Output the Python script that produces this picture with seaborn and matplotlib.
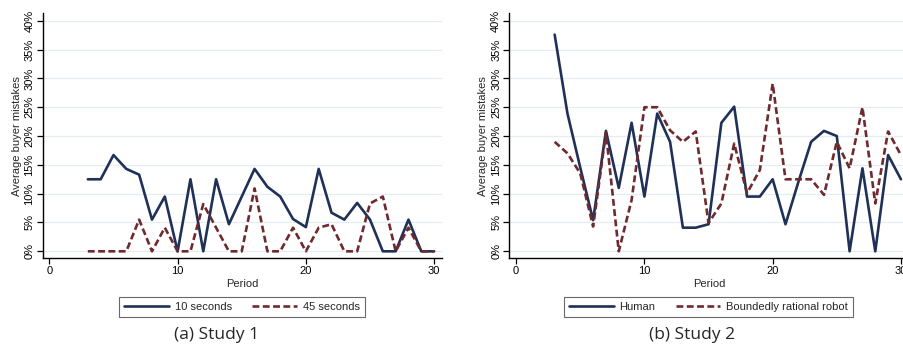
import numpy as np
import pandas as pd
import matplotlib
matplotlib.use("Agg")
import matplotlib.pyplot as plt
import seaborn as sns

# ---- data ----
periods = list(range(3, 31))

study1_10s = [12.5, 12.5, 16.7, 14.3, 13.3, 5.5, 9.5, 0.0, 12.5, 0.0, 12.5, 4.7, 9.5,
              14.3, 11.2, 9.5, 5.6, 4.2, 14.3, 6.7, 5.5, 8.4, 5.5, 0.0, 0.0, 5.5, 0.0, 0.0]
study1_45s = [0.0, 0.0, 0.0, 0.0, 5.5, 0.0, 4.1, 0.0, 0.0, 8.2, 4.1, 0.0, 0.0,
              10.9, 0.0, 0.0, 4.1, 0.0, 4.1, 4.7, 0.0, 0.0, 8.3, 9.5, 0.0, 4.1, 0.0, 0.0]

study2_human = [37.6, 23.9, 14.5, 5.4, 20.9, 11.0, 22.3, 9.5, 23.9, 19.0, 4.1, 4.1, 4.7,
                22.3, 25.1, 9.5, 9.5, 12.5, 4.7, 12.0, 19.0, 20.9, 20.0, 0.0, 14.4, 0.0, 16.7, 12.5]
study2_robot = [19.0, 17.0, 13.5, 4.3, 20.6, 0.0, 8.9, 25.0, 25.0, 21.0, 19.0, 20.8, 4.9,
                8.3, 18.7, 10.1, 14.1, 29.1, 12.5, 12.5, 12.5, 9.8, 19.0, 14.4, 25.0, 8.3, 20.8, 16.7]

labels1 = ["10 seconds", "45 seconds"]
labels2 = ["Human", "Boundedly rational robot"]
captions = ["(a) Study 1", "(b) Study 2"]
xticks = [0, 10, 20, 30]
yticks = [0, 5, 10, 15, 20, 25, 30, 35, 40]

NAVY = "#1f3157"
MAROON = "#6e2a2e"
GRID = "#e6edf1"

sns.set_theme(style="white")
plt.rcParams["font.family"] = ["Liberation Sans", "DejaVu Sans"]

fig = plt.figure(figsize=(9.04, 3.48), dpi=100)
W, H = 904.0, 348.0

def make_ax(left_px):
    return fig.add_axes([left_px / W, (H - 258) / H, 399.5 / W, (258 - 13.3) / H])

panels = [
    (make_ax(42.7), study1_10s, study1_45s, labels1, 242.0, 217.0, captions[0]),
    (make_ax(509.5), study2_human, study2_robot, labels2, 708.5, 692.0, captions[1]),
]

for ax, s_solid, s_dash, labs, leg_cx, cap_cx, cap in panels:
    df = pd.DataFrame({
        "Period": periods * 2,
        "value": s_solid + s_dash,
        "series": [labs[0]] * len(periods) + [labs[1]] * len(periods),
    })
    sns.lineplot(data=df, x="Period", y="value", hue="series", style="series",
                 palette={labs[0]: NAVY, labs[1]: MAROON},
                 dashes={labs[0]: "", labs[1]: (2.6, 1.3)},
                 linewidth=1.9, ax=ax, legend=False)
    ax.set_xlim(-0.52, 30.63)
    ax.set_ylim(-1.16, 41.3)
    ax.set_xticks(xticks)
    ax.set_xticklabels([str(t) for t in xticks], fontsize=8)
    ax.set_yticks(yticks)
    ax.set_yticklabels([f"{t}%" for t in yticks], fontsize=8, rotation=90, va="center")
    ax.yaxis.grid(True, color=GRID, linewidth=0.9)
    ax.xaxis.grid(False)
    ax.set_axisbelow(True)
    for side in ["top", "right"]:
        ax.spines[side].set_visible(False)
    for side in ["left", "bottom"]:
        ax.spines[side].set_color("black")
        ax.spines[side].set_linewidth(1.0)
    ax.tick_params(axis="both", which="major", direction="out", length=4, width=0.9,
                   color="black", labelcolor="black", bottom=True, left=True, pad=2)
    ax.set_xlabel("Period", fontsize=8, labelpad=2)
    ax.set_ylabel("Average buyer mistakes", fontsize=8, labelpad=2)
    handles = ax.get_lines()[:2]
    leg = ax.legend(handles, labs, loc="center", ncol=2,
                    bbox_to_anchor=(leg_cx / W, 1 - 306.5 / H),
                    bbox_transform=fig.transFigure, fontsize=8, frameon=True,
                    fancybox=False, edgecolor="#444444", handlelength=4.0,
                    columnspacing=1.8, handletextpad=0.55, borderpad=0.45,
                    borderaxespad=0.0)
    leg.get_frame().set_linewidth(0.8)
    fig.text(cap_cx / W, 1 - 335 / H, cap, ha="center", va="center",
             fontsize=12.5, family=["Open Sans", "DejaVu Sans"])

fig.savefig("out.png", dpi=100)
